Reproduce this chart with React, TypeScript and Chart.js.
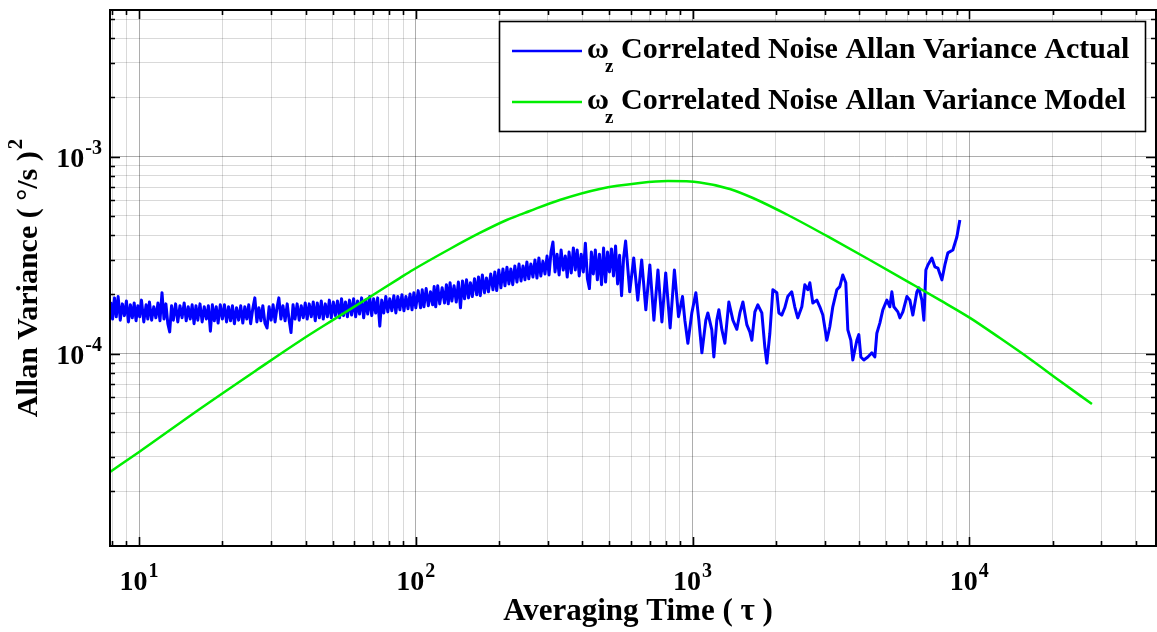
import { useEffect, useRef } from "react";
import { Chart, registerables } from "chart.js";

Chart.register(...registerables);

// ---------- data ----------
const actualTau = [
  // tau 7.9 .. 20
  7.9, 8.02, 8.15, 8.27, 8.4, 8.55, 8.7, 8.85, 9.0, 9.15,
  9.3, 9.45, 9.6, 9.75, 9.9, 10.05, 10.2, 10.4, 10.6, 10.75,
  10.9, 11.1, 11.3, 11.5, 11.7, 11.9, 12.1, 12.3, 12.5, 12.7,
  12.9, 13.1, 13.3, 13.55, 13.8, 14.05, 14.3, 14.55, 14.8, 15.05,
  15.3, 15.55, 15.8, 16.05, 16.3, 16.6, 16.9, 17.2, 17.5, 17.8,
  18.1, 18.4, 18.7, 19.0, 19.3, 19.65, 20.0,
  // tau 20 .. 51
  20.35, 20.7, 21.05, 21.4, 21.75, 22.1, 22.5, 22.9, 23.3, 23.7,
  24.1, 24.5, 24.9, 25.3, 25.75, 26.2, 26.65, 27.1, 27.55, 28.0,
  28.5, 29.0, 29.5, 30.0, 30.5, 31.0, 31.5, 32.0, 32.55, 33.1,
  33.7, 34.3, 34.85, 35.4, 36.0, 36.6, 37.25, 37.9, 38.55, 39.2,
  39.85, 40.5, 41.2, 41.9, 42.6, 43.3, 44.05, 44.8, 45.55, 46.3,
  47.1, 47.9, 48.7, 49.5, 50.35, 51.2,
  // tau 52 .. 100
  52.1, 53.0, 53.9, 54.8, 55.7, 56.6, 57.6, 58.6, 59.6, 60.6,
  61.6, 62.6, 63.7, 64.8, 65.9, 67.0, 68.1, 69.3, 70.4, 71.6,
  72.8, 74.1, 75.3, 76.6, 77.9, 79.2, 80.5, 81.9, 83.3, 84.7,
  86.1, 87.6, 89.1, 90.6, 92.1, 93.7, 95.3, 96.9, 98.4, 100,
  // tau 102 .. 203
  102, 104, 105.5, 107, 109, 111, 113, 115, 116.5, 118,
  120, 122, 124.5, 127, 129, 131, 133, 135, 137.5, 140,
  142.5, 145, 147.5, 150, 152.5, 155, 157.5, 160, 163, 166,
  168.5, 171, 174, 177, 180, 183, 186.5, 190, 193, 196,
  199.5, 203,
  // tau 206 .. 303
  206.5, 210, 213.5, 217, 220.5, 224, 228, 232, 236, 240,
  244, 248, 252, 256, 260.5, 265, 269.5, 274, 278.5, 283,
  288, 293, 298, 303,
  // tau 308 .. 573
  308, 313, 318.5, 324, 329.5, 335, 341, 347, 352.5, 358,
  364.5, 371, 377, 383, 389.5, 396, 403, 410, 417, 424,
  431, 438, 445.5, 453, 461, 469, 477, 485, 493, 501,
  509.5, 518, 527, 536, 545, 554, 563.5, 573,
  // tau 593 .. 920
  593, 613, 634, 655, 678, 701, 725, 750, 775, 800,
  830, 860, 890, 920,
  // tau 938 .. 9248
  938, 962, 994, 1028, 1054, 1081, 1117, 1136, 1174, 1194,
  1224, 1245, 1277, 1309, 1353, 1399, 1446, 1483, 1521, 1572,
  1611, 1638, 1680, 1722, 1780, 1825, 1856, 1903, 1951, 2017,
  2051, 2101, 2154, 2208, 2283, 2341, 2400, 2483, 2546, 2610,
  2654, 2721, 2813, 2884, 2957, 3057, 3134, 3213, 3322, 3406,
  3492, 3580, 3641, 3733, 3795, 3924, 3990, 4057, 4159, 4300,
  4446, 4559, 4635, 4752, 4872, 5038, 5165, 5252, 5340, 5521,
  5614, 5756, 5951, 6101, 6255, 6467, 6576, 6742, 6855, 6970,
  7087, 7327, 7512, 7702, 7963, 8164, 8370, 8725, 9020, 9248,
];

const actualVar = [
  // tau 7.9 .. 20
  1.83e-4, 1.5e-4, 1.92e-4, 1.54e-4, 1.95e-4, 1.48e-4, 1.79e-4, 1.56e-4, 1.85e-4, 1.45e-4,
  1.77e-4, 1.52e-4, 1.81e-4, 1.47e-4, 1.75e-4, 1.54e-4, 1.87e-4, 1.45e-4, 1.77e-4, 1.5e-4,
  1.83e-4, 1.48e-4, 1.73e-4, 1.52e-4, 1.81e-4, 1.47e-4, 2.04e-4, 1.5e-4, 1.79e-4, 1.42e-4,
  1.29e-4, 1.75e-4, 1.48e-4, 1.79e-4, 1.45e-4, 1.75e-4, 1.52e-4, 1.81e-4, 1.47e-4, 1.73e-4,
  1.5e-4, 1.77e-4, 1.42e-4, 1.75e-4, 1.48e-4, 1.79e-4, 1.45e-4, 1.73e-4, 1.5e-4, 1.75e-4,
  1.3e-4, 1.77e-4, 1.47e-4, 1.73e-4, 1.43e-4, 1.77e-4, 1.5e-4,
  // tau 20 .. 51
  1.77e-4, 1.45e-4, 1.73e-4, 1.47e-4, 1.75e-4, 1.42e-4, 1.71e-4, 1.48e-4, 1.75e-4, 1.43e-4,
  1.73e-4, 1.5e-4, 1.77e-4, 1.42e-4, 1.69e-4, 1.92e-4, 1.45e-4, 1.71e-4, 1.47e-4, 1.75e-4,
  1.43e-4, 1.35e-4, 1.73e-4, 1.48e-4, 1.77e-4, 1.45e-4, 1.71e-4, 1.92e-4, 1.5e-4, 1.75e-4,
  1.47e-4, 1.79e-4, 1.48e-4, 1.28e-4, 1.77e-4, 1.5e-4, 1.79e-4, 1.48e-4, 1.75e-4, 1.52e-4,
  1.81e-4, 1.5e-4, 1.79e-4, 1.54e-4, 1.83e-4, 1.47e-4, 1.81e-4, 1.52e-4, 1.85e-4, 1.5e-4,
  1.79e-4, 1.54e-4, 1.87e-4, 1.52e-4, 1.83e-4, 1.56e-4,
  // tau 52 .. 100
  1.85e-4, 1.52e-4, 1.9e-4, 1.56e-4, 1.83e-4, 1.54e-4, 1.87e-4, 1.57e-4, 1.9e-4, 1.54e-4,
  1.85e-4, 1.59e-4, 1.92e-4, 1.52e-4, 1.87e-4, 1.59e-4, 1.95e-4, 1.56e-4, 1.9e-4, 1.61e-4,
  1.92e-4, 1.38e-4, 1.87e-4, 1.61e-4, 1.95e-4, 1.63e-4, 1.9e-4, 1.65e-4, 1.97e-4, 1.61e-4,
  1.95e-4, 1.67e-4, 1.99e-4, 1.65e-4, 1.95e-4, 1.69e-4, 2.01e-4, 1.67e-4, 2.04e-4, 1.71e-4,
  // tau 102 .. 203
  2.09e-4, 1.71e-4, 2.11e-4, 1.73e-4, 2.14e-4, 1.75e-4, 2.06e-4, 1.77e-4, 2.19e-4, 1.73e-4,
  2.21e-4, 1.79e-4, 2.16e-4, 1.81e-4, 2.24e-4, 1.79e-4, 2.29e-4, 1.85e-4, 2.21e-4, 1.83e-4,
  2.31e-4, 1.71e-4, 2.34e-4, 1.9e-4, 2.37e-4, 1.92e-4, 2.29e-4, 1.95e-4, 2.4e-4, 1.99e-4,
  2.45e-4, 1.97e-4, 2.51e-4, 2.04e-4, 2.42e-4, 2.06e-4, 2.54e-4, 2.11e-4, 2.6e-4, 2.09e-4,
  2.66e-4, 2.16e-4,
  // tau 206 .. 303
  2.69e-4, 2.21e-4, 2.75e-4, 2.26e-4, 2.69e-4, 2.24e-4, 2.79e-4, 2.31e-4, 2.85e-4, 2.34e-4,
  2.79e-4, 2.37e-4, 2.92e-4, 2.4e-4, 2.85e-4, 2.45e-4, 2.99e-4, 2.42e-4, 3.06e-4, 2.48e-4,
  2.95e-4, 2.54e-4, 3.13e-4, 2.51e-4,
  // tau 308 .. 573
  3.28e-4, 3.69e-4, 2.6e-4, 3.2e-4, 2.51e-4, 3.36e-4, 2.66e-4, 3.13e-4, 2.45e-4, 3.28e-4,
  2.57e-4, 3.44e-4, 2.66e-4, 3.36e-4, 2.48e-4, 3.2e-4, 2.6e-4, 3.64e-4, 2.4e-4, 2.14e-4,
  3.28e-4, 2.54e-4, 3.36e-4, 2.37e-4, 3.2e-4, 2.24e-4, 3.44e-4, 2.31e-4, 3.28e-4, 2.6e-4,
  3.4e-4, 2.48e-4, 3.52e-4, 2.26e-4, 3.16e-4, 1.97e-4, 3.06e-4, 3.73e-4,
  // tau 593 .. 920
  2.06e-4, 3.06e-4, 1.87e-4, 2.99e-4, 1.67e-4, 2.82e-4, 1.48e-4, 2.66e-4, 1.45e-4, 2.57e-4,
  1.35e-4, 2.66e-4, 1.54e-4, 1.95e-4,
  // tau 938 .. 9248
  1.48e-4, 1.13e-4, 1.61e-4, 2.04e-4, 1.48e-4, 1.01e-4, 1.48e-4, 1.61e-4, 1.32e-4, 0.962e-4,
  1.48e-4, 1.67e-4, 1.32e-4, 1.13e-4, 1.83e-4, 1.48e-4, 1.33e-4, 1.61e-4, 1.83e-4, 1.4e-4,
  1.29e-4, 1.17e-4, 1.63e-4, 1.77e-4, 1.61e-4, 1.08e-4, 0.897e-4, 1.27e-4, 2.11e-4, 2.04e-4,
  1.61e-4, 1.57e-4, 1.71e-4, 1.95e-4, 2.06e-4, 1.73e-4, 1.52e-4, 1.73e-4, 2.24e-4, 2.11e-4,
  2.29e-4, 1.81e-4, 1.87e-4, 1.73e-4, 1.57e-4, 1.17e-4, 1.37e-4, 1.73e-4, 2.11e-4, 2.19e-4,
  2.51e-4, 2.29e-4, 1.32e-4, 1.17e-4, 0.929e-4, 1.17e-4, 1.25e-4, 0.962e-4, 0.929e-4, 0.962e-4,
  1.01e-4, 0.962e-4, 1.27e-4, 1.43e-4, 1.67e-4, 1.87e-4, 1.73e-4, 2.06e-4, 1.73e-4, 1.63e-4,
  1.52e-4, 1.63e-4, 1.95e-4, 1.87e-4, 1.57e-4, 2.06e-4, 2.16e-4, 1.87e-4, 1.48e-4, 2.66e-4,
  2.82e-4, 3.06e-4, 2.76e-4, 2.72e-4, 2.37e-4, 2.82e-4, 3.25e-4, 3.36e-4, 3.91e-4, 4.77e-4,
];

const modelTau = [
  7.85, 10, 16.57, 26.6, 38.1, 50.1, 68.2, 87.5, 97.5, 132.7,
  170.3, 213, 258.2, 331, 462, 645, 814, 1063, 1364, 1653,
  2246, 3057, 4373, 6101, 7839, 10060, 12910, 16570, 21270, 27760,
];
const modelVar = [
  2.51e-5, 3.17e-5, 5.24e-5, 8.26e-5, 1.16e-4, 1.48e-4, 1.94e-4, 2.42e-4, 2.66e-4, 3.4e-4,
  4.1e-4, 4.77e-4, 5.3e-4, 6.03e-4, 6.86e-4, 7.35e-4, 7.52e-4, 7.4e-4, 6.86e-4, 6.17e-4,
  5.0e-4, 3.96e-4, 2.99e-4, 2.29e-4, 1.87e-4, 1.52e-4, 1.2e-4, 9.4e-5, 7.27e-5, 5.55e-5,
];

const seriesNames = [
  "Correlated Noise Allan Variance Actual",
  "Correlated Noise Allan Variance Model",
];
const seriesColors = ["#0000ff", "#00ee00"];

const xRange = [7.85, 47300];
const yRange = [1.056e-5, 5.555e-3];

const xMajorTicks = [10, 100, 1000, 10000];
const xMajorExps = ["1", "2", "3", "4"];
const yMajorTicks = [1e-3, 1e-4];
const yMajorExps = ["-3", "-4"];

const xTitle = "Averaging Time ( \u03c4 )";
const yTitle = "Allan Variance ( \u00b0/s )";
const yTitleSup = "2";
const legendSymbol = "\u03c9";
const legendSub = "z";

// ---------- helpers ----------
const SERIF = '"Liberation Serif", "Times New Roman", serif';

function logTicks(scale: any) {
  const ticks: any[] = [];
  const lo = Math.floor(Math.log10(scale.min));
  const hi = Math.ceil(Math.log10(scale.max));
  for (let e = lo; e <= hi; e++) {
    for (let m = 1; m <= 9; m++) {
      const v = parseFloat((m * Math.pow(10, e)).toPrecision(6));
      if (v > scale.min && v < scale.max) ticks.push({ value: v, major: m === 1 });
    }
  }
  scale.ticks = ticks;
}

function drawPow(ctx: CanvasRenderingContext2D, base: string, exp: string, x: number, y: number, align: "center" | "right", baseSize: number, expSize: number) {
  ctx.font = `bold ${baseSize}px ${SERIF}`;
  const wb = ctx.measureText(base).width;
  ctx.font = `bold ${expSize}px ${SERIF}`;
  const we = ctx.measureText(exp).width;
  const total = wb + we + 1;
  const left = align === "center" ? x - total / 2 : x - total;
  ctx.textAlign = "left";
  ctx.textBaseline = "alphabetic";
  ctx.font = `bold ${baseSize}px ${SERIF}`;
  ctx.fillText(base, left, y);
  ctx.font = `bold ${expSize}px ${SERIF}`;
  ctx.fillText(exp, left + wb + 1, y - baseSize * 0.45);
}

const decorPlugin = {
  id: "decor",
  afterDraw(chart: any) {
    const { ctx, chartArea: a, scales } = chart;
    const xs = scales.x;
    const ys = scales.y;
    ctx.save();
    ctx.fillStyle = "#000";
    ctx.strokeStyle = "#000";

    // inward tick marks on all four sides
    ctx.lineWidth = 1.6;
    ctx.beginPath();
    for (const t of xs.ticks) {
      const px = Math.round(xs.getPixelForValue(t.value)) + 0.5;
      const len = t.major ? 9 : 5;
      ctx.moveTo(px, a.bottom);
      ctx.lineTo(px, a.bottom - len);
      ctx.moveTo(px, a.top);
      ctx.lineTo(px, a.top + len);
    }
    for (const t of ys.ticks) {
      const py = Math.round(ys.getPixelForValue(t.value)) + 0.5;
      const len = t.major ? 10 : 5;
      ctx.moveTo(a.left, py);
      ctx.lineTo(a.left + len, py);
      ctx.moveTo(a.right, py);
      ctx.lineTo(a.right - len, py);
    }
    ctx.stroke();

    // frame
    ctx.lineWidth = 2;
    ctx.strokeRect(a.left, a.top, a.right - a.left, a.bottom - a.top);

    // tick labels
    xMajorTicks.forEach((v, i) => {
      const px = xs.getPixelForValue(v);
      drawPow(ctx, "10", xMajorExps[i], px, a.bottom + 44, "center", 28, 20);
    });
    yMajorTicks.forEach((v, i) => {
      const py = ys.getPixelForValue(v);
      drawPow(ctx, "10", yMajorExps[i], a.left - 8, py + 10, "right", 28, 20);
    });

    // x title
    ctx.font = `bold 31px ${SERIF}`;
    ctx.textAlign = "center";
    ctx.textBaseline = "alphabetic";
    ctx.fillText(xTitle, 638, 620);

    // y title (rotated)
    ctx.save();
    ctx.translate(37, 278);
    ctx.rotate(-Math.PI / 2);
    ctx.font = `bold 30px ${SERIF}`;
    const wt = ctx.measureText(yTitle).width;
    ctx.font = `bold 21px ${SERIF}`;
    const ws = ctx.measureText(yTitleSup).width;
    const start = -(wt + ws + 2) / 2;
    ctx.textAlign = "left";
    ctx.font = `bold 30px ${SERIF}`;
    ctx.fillText(yTitle, start, 0);
    ctx.font = `bold 21px ${SERIF}`;
    ctx.fillText(yTitleSup, start + wt + 2, -15);
    ctx.restore();

    // legend
    const bx = 499.5, by = 21.5, bw = 646, bh = 110;
    ctx.fillStyle = "#fff";
    ctx.fillRect(bx, by, bw, bh);
    ctx.lineWidth = 1.6;
    ctx.strokeStyle = "#000";
    ctx.strokeRect(bx, by, bw, bh);
    seriesNames.forEach((name, i) => {
      const ly = 51 + i * 51;
      ctx.strokeStyle = seriesColors[i];
      ctx.lineWidth = 2.5;
      ctx.beginPath();
      ctx.moveTo(512, ly);
      ctx.lineTo(582, ly);
      ctx.stroke();
      ctx.fillStyle = "#000";
      ctx.textAlign = "left";
      const base = ly + 7;
      ctx.font = `bold 30px ${SERIF}`;
      ctx.fillText(legendSymbol, 587, base);
      ctx.font = `bold 19px ${SERIF}`;
      ctx.fillText(legendSub, 605, base + 14);
      ctx.font = `bold 30px ${SERIF}`;
      ctx.fillText(name, 621, base);
    });
    ctx.restore();
  },
};

export default function App() {
  const canvasRef = useRef<HTMLCanvasElement | null>(null);

  useEffect(() => {
    const canvas = canvasRef.current;
    if (!canvas) return;
    const gridColor = (c: any) => (c.tick && c.tick.major ? "rgba(0,0,0,0.32)" : "rgba(0,0,0,0.15)");
    const chart = new Chart(canvas, {
      type: "line",
      data: {
        datasets: [
          {
            label: seriesNames[1],
            data: modelTau.map((t, i) => ({ x: t, y: modelVar[i] })),
            borderColor: seriesColors[1],
            borderWidth: 2.5,
            pointRadius: 0,
            cubicInterpolationMode: "monotone",
            fill: false,
          },
          {
            label: seriesNames[0],
            data: actualTau.map((t, i) => ({ x: t, y: actualVar[i] })),
            borderColor: seriesColors[0],
            borderWidth: 3,
            borderJoinStyle: "round",
            pointRadius: 0,
            tension: 0,
            fill: false,
          },
        ],
      },
      options: {
        animation: false,
        responsive: false,
        devicePixelRatio: 1,
        layout: { padding: { left: 110, top: 10, right: 1, bottom: 86 } },
        plugins: { legend: { display: false }, tooltip: { enabled: false } },
        events: [],
        scales: {
          x: {
            type: "logarithmic",
            min: xRange[0],
            max: xRange[1],
            afterBuildTicks: logTicks,
            ticks: { display: false },
            grid: { color: gridColor, lineWidth: 1, drawTicks: false },
            border: { display: false },
          },
          y: {
            type: "logarithmic",
            min: yRange[0],
            max: yRange[1],
            afterBuildTicks: logTicks,
            ticks: { display: false },
            grid: { color: gridColor, lineWidth: 1, drawTicks: false },
            border: { display: false },
          },
        },
      } as any,
      plugins: [decorPlugin],
    });
    return () => chart.destroy();
  }, []);

  return (
    <div style={{ position: "fixed", left: 0, top: 0, width: 1157, height: 632, background: "#fff" }}>
      <canvas ref={canvasRef} width={1157} height={632} style={{ width: 1157, height: 632, display: "block" }} />
    </div>
  );
}
